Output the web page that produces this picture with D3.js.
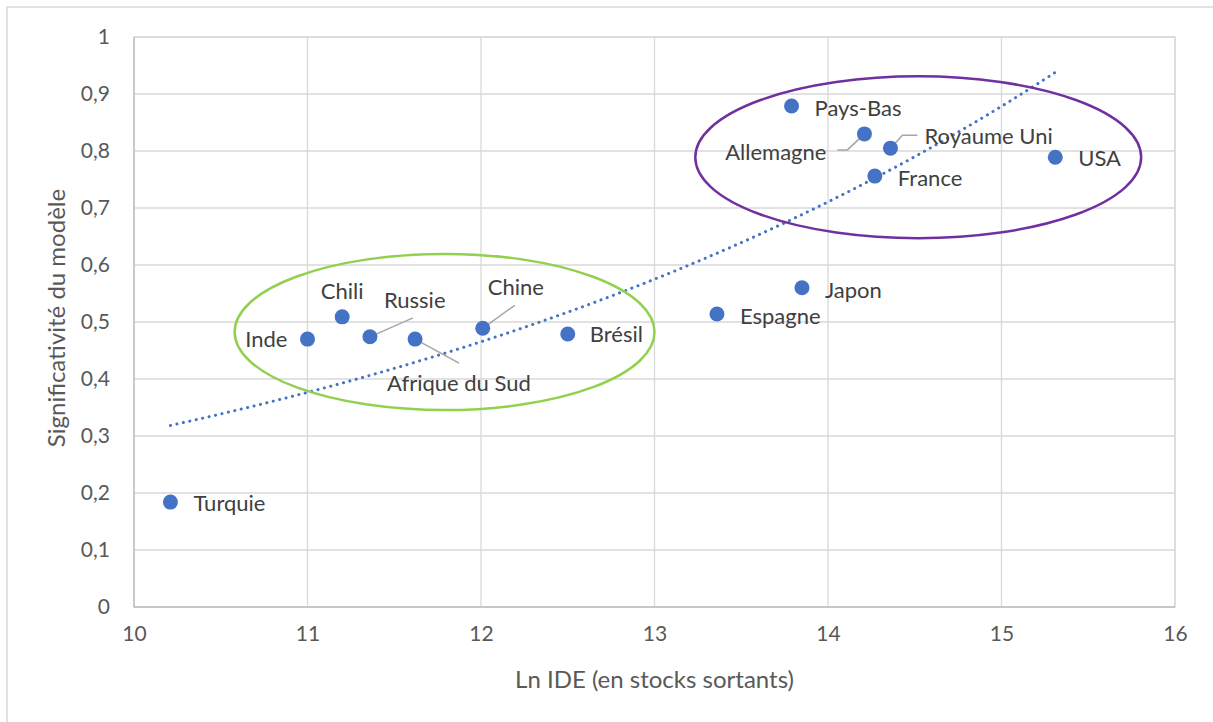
<!DOCTYPE html>
<html><head><meta charset="utf-8">
<script src="https://cdn.jsdelivr.net/npm/d3@7"></script>
<style>body{margin:0;background:#fff;overflow:hidden} text{font-family:Lato,"Liberation Sans",sans-serif}</style>
</head><body><svg id="c" width="1213" height="722"></svg>
<script>
// ---- data ----
const countries = ["Turquie","Inde","Chili","Russie","Afrique du Sud","Chine","Brésil","Espagne","Japon","Pays-Bas","Allemagne","Royaume Uni","France","USA"];
const lnIDE  = [10.21,11.00,11.20,11.36,11.62,12.01,12.50,13.36,13.85,13.79,14.21,14.36,14.27,15.31];
const signif = [0.184,0.470,0.509,0.474,0.470,0.489,0.479,0.514,0.560,0.879,0.830,0.805,0.756,0.789];
const xTicks = [10,11,12,13,14,15,16];
const yTicks = [0,0.1,0.2,0.3,0.4,0.5,0.6,0.7,0.8,0.9,1];
const xTitle = "Ln IDE (en stocks sortants)";
const yTitle = "Significativité du modèle";
// group ellipses in data units: [cx, cy, rx, ry]
const groupEmerging = [11.79, 0.4825, 1.21, 0.137];
const groupAdvanced = [14.52, 0.789, 1.285, 0.142];

// ---- layout (pixel offsets for labels, relative to the point) ----
const labelLayout = {
  "Turquie":{dx:23,dy:1,a:"start"},
  "Inde":{dx:-20,dy:0,a:"end"},
  "Chili":{dx:0,dy:-26,a:"middle"},
  "Russie":{dx:14,dy:-37,a:"start",lead:[[0,0],[43,-19]]},
  "Afrique du Sud":{dx:-28,dy:44,a:"start",lead:[[0,0],[44,24]]},
  "Chine":{dx:5,dy:-41,a:"start",lead:[[0,0],[32,-23]]},
  "Brésil":{dx:22,dy:0,a:"start"},
  "Espagne":{dx:23,dy:2,a:"start"},
  "Japon":{dx:23,dy:2,a:"start"},
  "Pays-Bas":{dx:23,dy:2,a:"start"},
  "Allemagne":{dx:-38,dy:18,a:"end",lead:[[-27,16],[-17,16],[-1,1]]},
  "Royaume Uni":{dx:34,dy:-12,a:"start",lead:[[0,0],[12,-13],[27,-13]]},
  "France":{dx:23,dy:2,a:"start"},
  "USA":{dx:23,dy:1,a:"start"}
};

const W=1213,H=722;
const m={l:134,r:1175,t:37,b:607};
const svg=d3.select("#c");
const x=d3.scaleLinear().domain([10,16]).range([m.l,m.r]);
const y=d3.scaleLinear().domain([0,1]).range([m.b,m.t]);

// outer chart border (left/top visible)
svg.append("rect").attr("x",7).attr("y",7).attr("width",W+20).attr("height",H+20)
  .attr("fill","#fff").attr("stroke","#d9d9d9").attr("stroke-width",1.5);

// gridlines
const grid=svg.append("g");
grid.selectAll(".gy").data(yTicks).join("line")
  .attr("x1",m.l).attr("x2",m.r).attr("y1",d=>y(d)).attr("y2",d=>y(d))
  .attr("stroke","#d9d9d9").attr("stroke-width",1.3);
grid.selectAll(".gx").data(xTicks).join("line")
  .attr("y1",m.t).attr("y2",m.b).attr("x1",d=>x(d)).attr("x2",d=>x(d))
  .attr("stroke","#d9d9d9").attr("stroke-width",1.3);
svg.append("rect").attr("x",m.l).attr("y",m.t).attr("width",m.r-m.l).attr("height",m.b-m.t)
  .attr("fill","none").attr("stroke","#d9d9d9").attr("stroke-width",1.3);
svg.append("line").attr("x1",m.l).attr("x2",m.l).attr("y1",m.t).attr("y2",m.b).attr("stroke","#bfbfbf").attr("stroke-width",1.3);
svg.append("line").attr("x1",m.l).attr("x2",m.r).attr("y1",m.b).attr("y2",m.b).attr("stroke","#bfbfbf").attr("stroke-width",1.3);

// axes (labels only)
const fmt=d=>d3.format("")(d).replace(".",",");
const ya=svg.append("g").attr("transform",`translate(${m.l},0)`)
  .call(d3.axisLeft(y).tickValues(yTicks).tickFormat(fmt).tickSize(0).tickPadding(24));
const xa=svg.append("g").attr("transform",`translate(0,${m.b})`)
  .call(d3.axisBottom(x).tickValues(xTicks).tickFormat(d3.format("d")).tickSize(0).tickPadding(19));
[ya,xa].forEach(g=>{g.select(".domain").remove();
  g.selectAll("text").attr("fill","#595959").style("font-size","21px").style("font-family","Lato,sans-serif");});

// titles
svg.append("text").attr("x",(m.l+m.r)/2).attr("y",680).attr("dy","0.35em").attr("text-anchor","middle")
  .attr("fill","#595959").style("font-size","24px").text(xTitle);
svg.append("text").attr("transform",`translate(57,318) rotate(-90)`).attr("dy","0.35em").attr("text-anchor","middle")
  .attr("fill","#595959").style("font-size","24px").text(yTitle);

// exponential trendline (least squares on ln y)
const pts=countries.map((c,i)=>({c,x:lnIDE[i],y:signif[i]}));
const mx=d3.mean(pts,p=>p.x), my=d3.mean(pts,p=>Math.log(p.y));
const b=d3.sum(pts,p=>(p.x-mx)*(Math.log(p.y)-my))/d3.sum(pts,p=>(p.x-mx)**2);
const lnA=my-b*mx;
const [x0,x1]=d3.extent(lnIDE);
const trend=d3.range(0,101).map(k=>{const xv=x0+(x1-x0)*k/100;return [xv,Math.exp(lnA+b*xv)];});
svg.append("path").datum(trend)
  .attr("d",d3.line().x(d=>x(d[0])).y(d=>y(d[1])))
  .attr("fill","none").attr("stroke","#4472C4").attr("stroke-width",3)
  .attr("stroke-linecap","round").attr("stroke-dasharray","0.1 6.5");

// ellipses
const ell=[[groupEmerging,"#92D050"],[groupAdvanced,"#7030A0"]];
svg.selectAll(".ell").data(ell).join("ellipse")
  .attr("cx",d=>x(d[0][0])).attr("cy",d=>y(d[0][1]))
  .attr("rx",d=>x(d[0][0]+d[0][2])-x(d[0][0])).attr("ry",d=>y(d[0][1]-d[0][3])-y(d[0][1]))
  .attr("fill","none").attr("stroke",d=>d[1]).attr("stroke-width",2.5);

// leader lines
const lg=svg.append("g");
pts.forEach(p=>{const L=labelLayout[p.c]; if(L.lead){
  lg.append("polyline").attr("points",L.lead.map(q=>[x(p.x)+q[0],y(p.y)+q[1]].join(",")).join(" "))
    .attr("fill","none").attr("stroke","#a6a6a6").attr("stroke-width",1.5);}});

// points
svg.selectAll(".pt").data(pts).join("circle")
  .attr("cx",d=>x(d.x)).attr("cy",d=>y(d.y)).attr("r",7.5).attr("fill","#4472C4");

// labels
svg.selectAll(".lb").data(pts).join("text")
  .attr("x",d=>x(d.x)+labelLayout[d.c].dx).attr("y",d=>y(d.y)+labelLayout[d.c].dy)
  .attr("dy","0.35em").attr("text-anchor",d=>labelLayout[d.c].a)
  .attr("fill","#404040").style("font-size","22px").text(d=>d.c);
</script></body></html>
